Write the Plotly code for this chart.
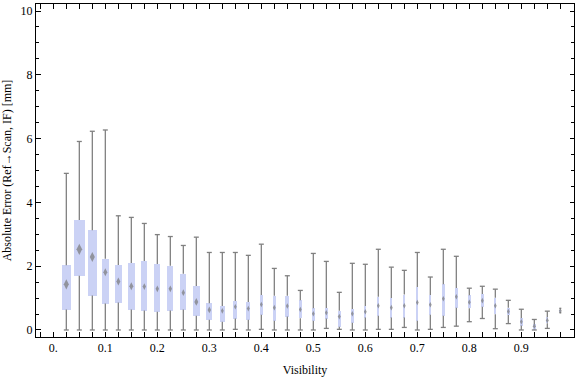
import plotly.graph_objects as go

# Visibility bin centres
visibility = [round(0.025 * (i + 1), 3) for i in range(39)]

# Box-whisker statistics (absolute error, mm)
whisker_min = [0, 0, 0, 0, 0, 0, 0, 0, 0, 0,
               0, 0, 0, 0.02, 0, 0.02, 0, 0, 0, 0,
               0.05, 0.02, 0, 0, 0.02, 0.02, 0.08, 0, 0.02, 0.08,
               0.12, 0.26, 0.36, 0.04, 0.20, 0, 0, 0.05, 0.54]
q1 = [0.64, 1.70, 1.08, 0.83, 0.86, 0.64, 0.61, 0.57, 0.61, 0.64,
      0.45, 0.32, 0.26, 0.36, 0.32, 0.48, 0.29, 0.42, 0.37, 0.29,
      0.36, 0.10, 0.23, 0.39, 0.45, 0.39, 0.39, 0.29, 0.48, 0.45,
      0.70, 0.68, 0.73, 0.49, 0.47, 0.14, 0.01, 0.21, 0.56]
median = [1.43, 2.53, 2.29, 1.81, 1.52, 1.37, 1.36, 1.29, 1.29, 1.17,
          0.88, 0.63, 0.60, 0.73, 0.67, 0.80, 0.70, 0.75, 0.64, 0.51,
          0.54, 0.42, 0.51, 0.57, 0.76, 0.70, 0.76, 0.86, 0.79, 0.98,
          1.04, 0.87, 0.92, 0.76, 0.58, 0.26, 0.12, 0.30, 0.60]
q3 = [2.03, 3.45, 3.13, 2.23, 2.04, 2.10, 2.16, 2.07, 2.01, 1.76,
      1.38, 0.84, 0.75, 0.91, 0.88, 1.10, 1.07, 1.07, 0.93, 0.68,
      0.69, 0.60, 0.66, 0.75, 1.04, 1.00, 1.11, 1.35, 1.10, 1.43,
      1.32, 1.09, 1.13, 1.01, 0.70, 0.37, 0.18, 0.40, 0.64]
whisker_max = [4.91, 5.91, 6.23, 6.27, 3.58, 3.53, 3.34, 2.99, 2.93, 2.65,
               2.91, 2.43, 2.43, 2.43, 2.34, 2.69, 1.93, 1.70, 1.24, 2.40,
               2.15, 1.18, 2.09, 2.06, 2.53, 1.97, 1.87, 2.43, 1.66, 2.53,
               2.31, 1.31, 1.37, 1.28, 0.93, 0.65, 0.33, 0.59, 0.68]

x_tick_vals = [0.0, 0.1, 0.2, 0.3, 0.4, 0.5, 0.6, 0.7, 0.8, 0.9]
x_tick_text = ["0.", "0.1", "0.2", "0.3", "0.4", "0.5", "0.6", "0.7", "0.8", "0.9"]
y_tick_vals = [0, 2, 4, 6, 8, 10]

# ---- styling (box widths in pixels, converted to data units) ----
box_px = [9, 11, 9, 7, 7, 7, 6, 6, 6, 6,
          7, 6, 5, 4, 4, 3, 3, 4, 3, 3,
          3, 3, 3, 2, 2, 2, 2, 2, 2, 2.5,
          3, 3, 3, 2, 3, 3, 3, 2, 1.5]
PX = 1 / 520.0
box_w = [w * PX for w in box_px]
cap_px = [2.5 if p >= 2 else 1.0 for p in box_px]

BOX_FILL = "rgb(203,210,245)"
WHISKER = "rgb(128,128,128)"
MED = "rgb(120,120,120)"
FONT = "Liberation Serif"

fig = go.Figure()

# Whiskers (lower and upper) built from the stats arrays
wx, wy = [], []
for x, lo, a, b, hi, c in zip(visibility, whisker_min, q1, q3, whisker_max, cap_px):
    h = c * PX
    wx += [x, x, None, x, x, None]
    wy += [lo, a, None, b, hi, None]
    wx += [x - h, x + h, None, x - h, x + h, None]
    wy += [lo, lo, None, hi, hi, None]
fig.add_trace(go.Scatter(x=wx, y=wy, mode="lines",
                         line=dict(color=WHISKER, width=1.3),
                         hoverinfo="skip", showlegend=False))

# Boxes
fig.add_trace(go.Bar(x=visibility, base=q1,
                     y=[b - a for a, b in zip(q1, q3)],
                     width=box_w, marker=dict(color=BOX_FILL, line=dict(width=0)),
                     showlegend=False))

# Median diamonds
fig.add_trace(go.Scatter(x=visibility, y=median, mode="markers",
                         marker=dict(symbol="diamond-tall", color=MED,
                                     size=[max(4, min(8, p * 0.8)) for p in box_px],
                                     line=dict(width=0)),
                         showlegend=False))

fig.update_layout(
    width=576, height=377,
    margin=dict(l=36, r=2, t=4, b=40),
    paper_bgcolor="white", plot_bgcolor="white",
    font=dict(family=FONT, size=12, color="black"),
    bargap=0,
    xaxis=dict(range=[-0.0333, 1.0013], showgrid=False, zeroline=False,
               automargin=False,
               showline=True, linecolor="black", linewidth=1, mirror="ticks",
               ticks="inside", ticklen=5, tickcolor="black",
               tickvals=x_tick_vals, ticktext=x_tick_text,
               minor=dict(dtick=0.025, tick0=0, ticks="inside", ticklen=5, tickcolor="black"),
               title=dict(text="Visibility", font=dict(family=FONT, size=12), standoff=11)),
    yaxis=dict(range=[-0.22, 10.22], showgrid=False, zeroline=False,
               automargin=False,
               showline=True, linecolor="black", linewidth=1, mirror="ticks",
               ticks="inside", ticklen=4.5, tickcolor="black",
               tickvals=y_tick_vals,
               minor=dict(dtick=0.5, tick0=0, ticks="inside", ticklen=2.7, tickcolor="black"),
               title=dict(text="Absolute Error (Ref\u2192Scan, IF) [mm]",
                          font=dict(family=FONT, size=12), standoff=6)),
)

fig.write_html("out.html",
               config={"displayModeBar": False},
               post_script="document.body.style.margin='0';document.body.style.padding='0';")
